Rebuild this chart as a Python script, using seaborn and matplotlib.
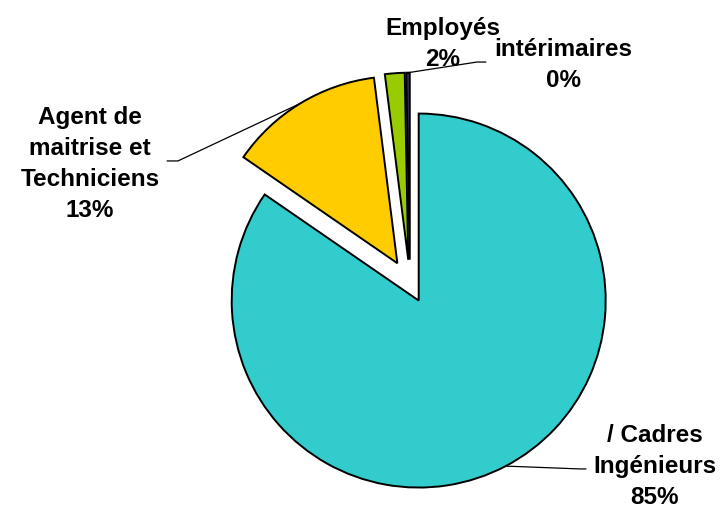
import numpy as np
import matplotlib
matplotlib.use("Agg")
import matplotlib.pyplot as plt
import seaborn as sns

# donnees (en %)
categories = ["/ Cadres\nIngénieurs", "Agent de\nmaitrise et\nTechniciens", "Employés", "intérimaires"]
valeurs = [84.6, 13.4, 1.7, 0.3]
couleurs = ["#33CCCC", "#FFCC00", "#99CC00", "#333366"]
eclatement = [0.10, 0.13, 0.13, 0.13]

sns.set_theme(style="white")
plt.rcParams["font.family"] = ["Liberation Sans", "DejaVu Sans"]

fig = plt.figure(figsize=(7.27, 5.13), dpi=100)
ax = fig.add_axes([0, 0, 1, 1])

wedges, _ = ax.pie(
    valeurs,
    colors=couleurs,
    explode=eclatement,
    startangle=90,
    counterclock=False,
    wedgeprops=dict(edgecolor="black", linewidth=1.4),
)

ax.set_xlim(-410 / 187, (727 - 410) / 187)
ax.set_ylim(-(513 - 284) / 187, 284 / 187)
ax.axis("off")

total = sum(valeurs)
textes = [f"{c}\n{v / total * 100:.0f}%" for c, v in zip(categories, valeurs)]

# position des etiquettes (centre du bloc) et coude des lignes de rappel
pos_texte = [(1.31, -0.975), (-1.711, 0.64), (0.175, 1.285), (0.82, 1.17)]
coudes = [[(0.909, -0.989), (0.941, -0.989)],
          [(-1.241, 0.658), (-1.299, 0.658)],
          None,
          [(0.358, 1.187), (0.406, 1.187)]]


def point_bord(w):
    ang = np.deg2rad((w.theta1 + w.theta2) / 2)
    cx, cy = w.center
    return cx + w.r * np.cos(ang), cy + w.r * np.sin(ang)


for w, t, p, cd in zip(wedges, textes, pos_texte, coudes):
    ax.text(p[0], p[1], t, ha="center", va="center", fontsize=17.5,
            fontweight="bold", color="black", linespacing=1.45)
    if cd is not None:
        x0, y0 = point_bord(w)
        xs = [x0] + [c[0] for c in cd]
        ys = [y0] + [c[1] for c in cd]
        ax.plot(xs, ys, color="black", linewidth=0.9)

plt.savefig("out.png", dpi=100)
plt.close()
